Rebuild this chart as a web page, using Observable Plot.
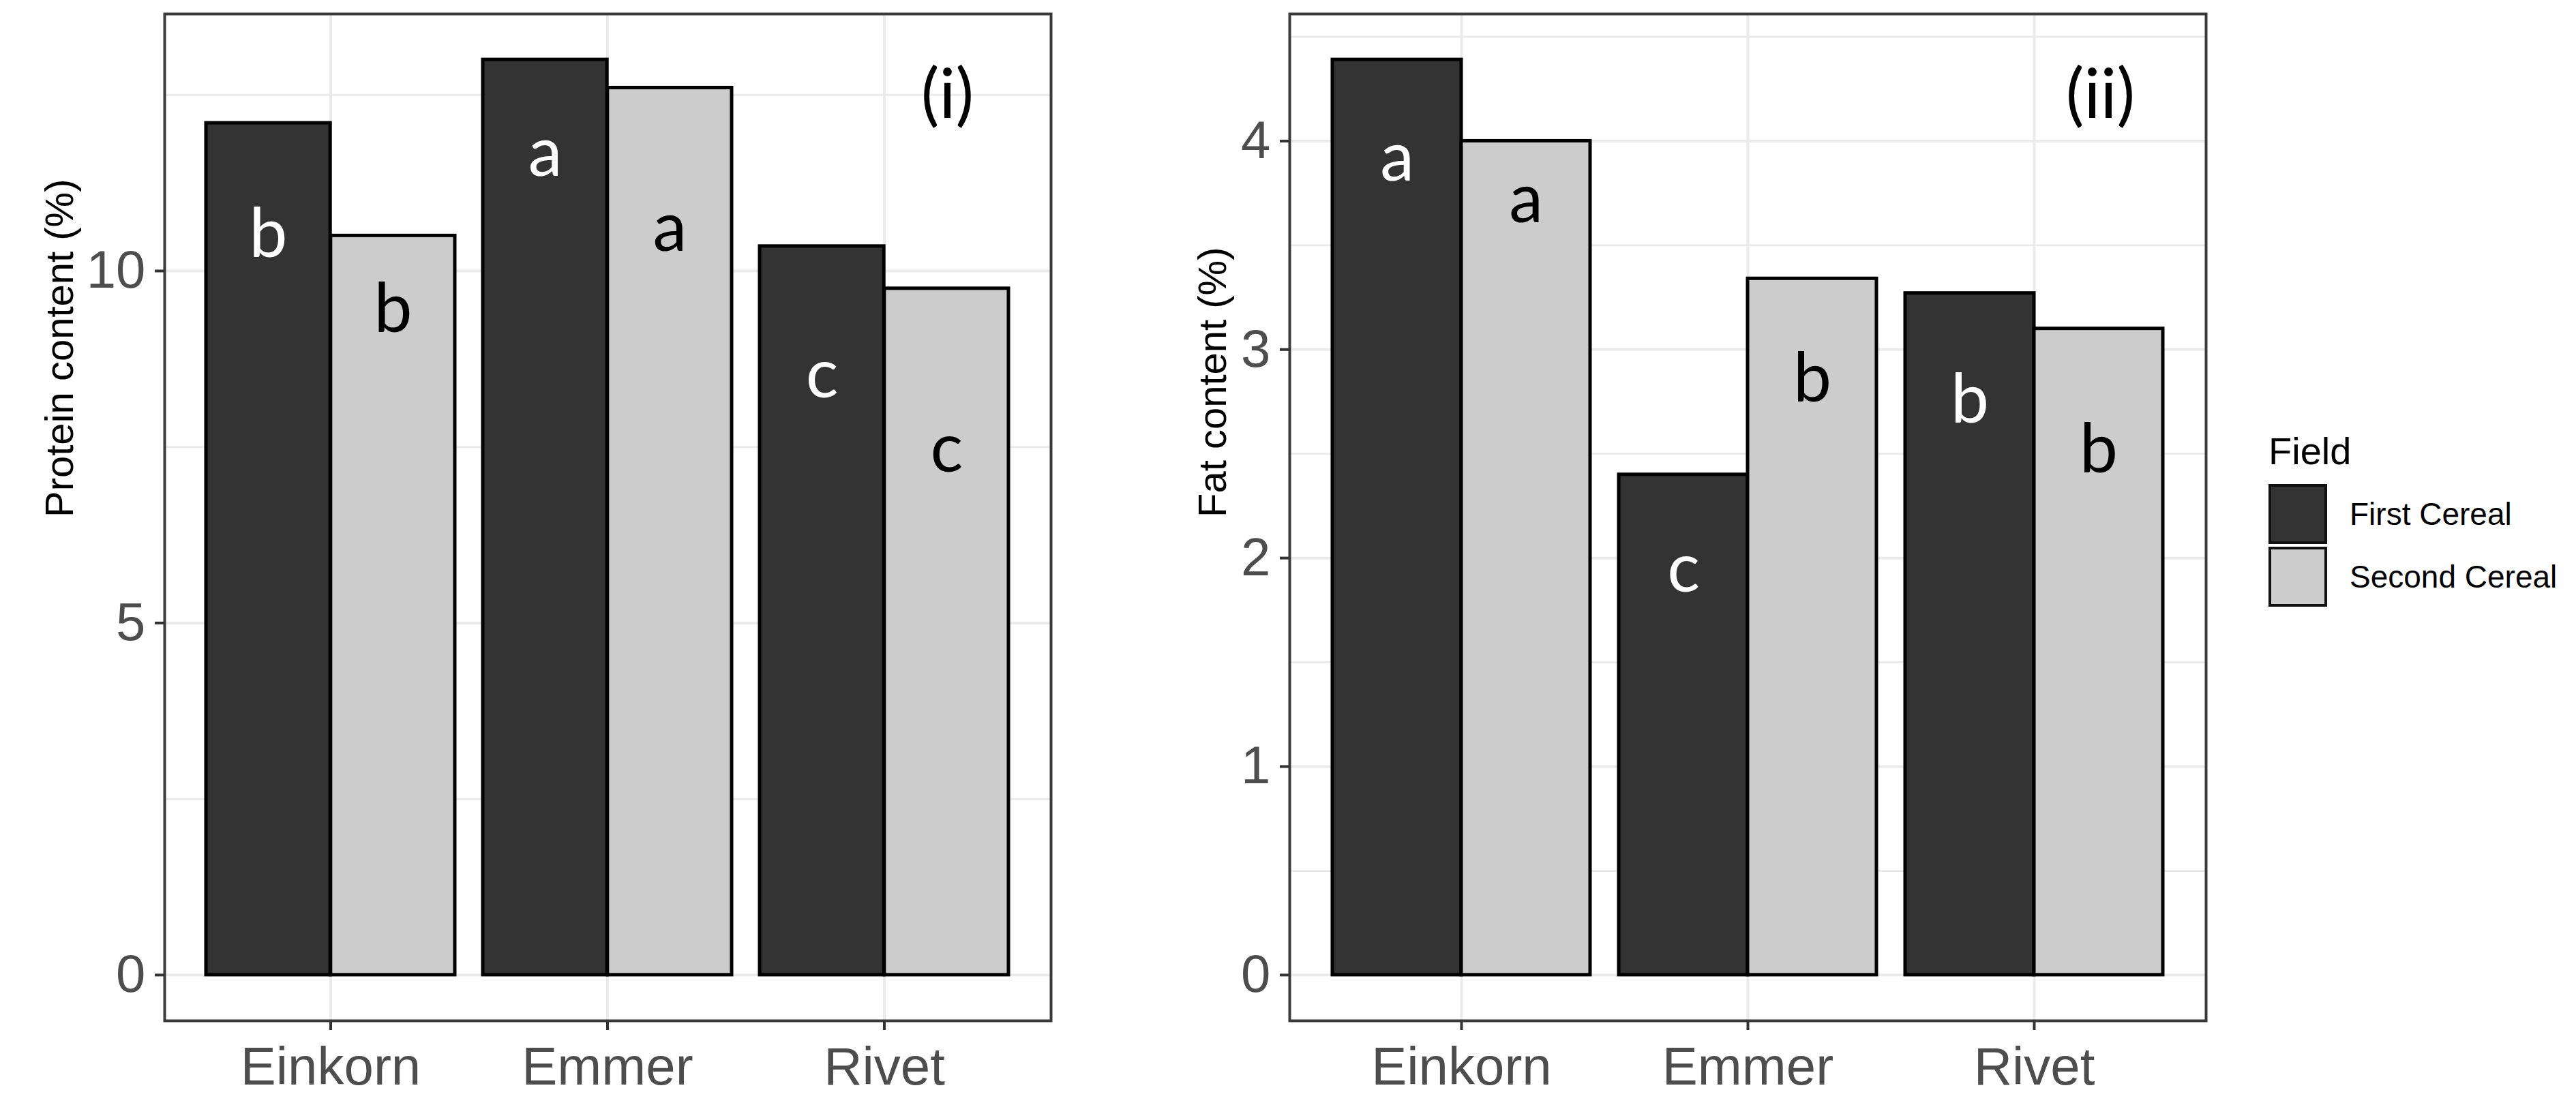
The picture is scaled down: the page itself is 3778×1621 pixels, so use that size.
<!DOCTYPE html>
<html>
<head>
<meta charset="utf-8">
<script src="https://cdn.jsdelivr.net/npm/d3@7"></script>
<script src="https://cdn.jsdelivr.net/npm/@observablehq/plot@0.6"></script>
<style>
  html, body { margin: 0; padding: 0; background: white; }
  #wrap { position: relative; width: 3778px; height: 1621px; overflow: hidden; background: white; }
  .panel { position: absolute; top: 0; }
  #legend { position: absolute; left: 3327px; top: 0; font-family: "Liberation Sans", Arial, sans-serif; }
</style>
</head>
<body>
<div id="wrap">
  <div id="p1" class="panel" style="left:0px"></div>
  <div id="p2" class="panel" style="left:1580px"></div>
  <div id="legend"></div>
</div>
<script>
// ---- data ----
const categories = ["Einkorn", "Emmer", "Rivet"];
const fields = ["First Cereal", "Second Cereal"];
const fieldColors = ["#333333", "#cccccc"];
const letterColors = ["white", "black"];

const proteinFirst = [12.1, 13.0, 10.35];
const proteinSecond = [10.5, 12.6, 9.75];
const proteinLettersFirst = ["b", "a", "c"];
const proteinLettersSecond = ["b", "a", "c"];
const proteinLetterYFirst = [10.2, 11.35, 8.2];
const proteinLetterYSecond = [9.13, 10.29, 7.15];
const proteinTicks = [0, 5, 10];
const proteinMinor = [2.5, 7.5, 12.5];

const fatFirst = [4.39, 2.40, 3.27];
const fatSecond = [4.00, 3.34, 3.10];
const fatLettersFirst = ["a", "c", "b"];
const fatLettersSecond = ["a", "b", "b"];
const fatLetterYFirst = [3.81, 1.84, 2.65];
const fatLetterYSecond = [3.61, 2.75, 2.41];
const fatTicks = [0, 1, 2, 3, 4];
const fatMinor = [0.5, 1.5, 2.5, 3.5, 4.5];

const sans = "'Liberation Sans', Arial, sans-serif";
const letterFont = "Lato, 'Open Sans', sans-serif";

function table(first, second, lFirst, lSecond, yFirst, ySecond) {
  const rows = [];
  categories.forEach((c, i) => {
    rows.push({category: c, field: fields[0], value: first[i], letter: lFirst[i], ly: yFirst[i]});
    rows.push({category: c, field: fields[1], value: second[i], letter: lSecond[i], ly: ySecond[i]});
  });
  return rows;
}

function panel({rows, ticks, minor, yLabel, tag, width, marginLeft, marginRight, titleDx, tagDx}) {
  const height = 1621, marginTop = 20, marginBottom = 124;
  const max = d3.max(rows, d => d.value);
  const panelW = width - marginLeft - marginRight;
  const bw = 0.9 * panelW / 3.2;
  const first = rows.filter(d => d.field === fields[0]);
  const second = rows.filter(d => d.field === fields[1]);
  return Plot.plot({
    width, height, marginLeft, marginRight, marginTop, marginBottom,
    style: {background: "white", fontFamily: sans, overflow: "visible"},
    x: {domain: categories, paddingInner: 0.1, paddingOuter: 0.15, axis: null},
    y: {domain: [-0.05 * max, 1.05 * max], axis: null},
    marks: [
      Plot.gridY({ticks: minor, stroke: "#ebebeb", strokeOpacity: 1, strokeWidth: 3}),
      Plot.gridY({ticks: ticks, stroke: "#ebebeb", strokeOpacity: 1, strokeWidth: 4}),
      Plot.gridX({stroke: "#ebebeb", strokeOpacity: 1, strokeWidth: 4}),
      Plot.barY(first, {x: "category", y: "value", fill: fieldColors[0], stroke: "black", strokeWidth: 5, insetRight: bw / 2}),
      Plot.barY(second, {x: "category", y: "value", fill: fieldColors[1], stroke: "black", strokeWidth: 5, insetLeft: bw / 2}),
      Plot.text(first, {x: "category", y: "ly", text: "letter", dx: -bw / 4, fill: letterColors[0], fontSize: 100, fontFamily: letterFont, lineAnchor: "bottom"}),
      Plot.text(second, {x: "category", y: "ly", text: "letter", dx: bw / 4, fill: letterColors[1], fontSize: 100, fontFamily: letterFont, lineAnchor: "bottom"}),
      Plot.text([tag], {frameAnchor: "top-right", text: d => d, dx: tagDx, dy: 152, fill: "black", fontSize: 100, fontFamily: letterFont, lineAnchor: "bottom", textAnchor: "middle"}),
      Plot.frame({stroke: "#3a3a3a", strokeWidth: 4}),
      Plot.axisY({ticks: ticks, tickFormat: d3.format("d"), tickSize: 14, tickPadding: 14, stroke: "#333333", strokeWidth: 4, fill: "#4d4d4d", fontSize: 78, fontFamily: sans, label: null}),
      Plot.axisX({tickSize: 14, tickPadding: 24, stroke: "#333333", strokeWidth: 4, fill: "#4d4d4d", fontSize: 78, fontFamily: sans, label: null}),
      Plot.text([yLabel], {frameAnchor: "left", text: d => d, rotate: -90, dx: titleDx, fill: "black", fontSize: 58, fontFamily: sans})
    ]
  });
}

document.getElementById("p1").appendChild(panel({
  rows: table(proteinFirst, proteinSecond, proteinLettersFirst, proteinLettersSecond, proteinLetterYFirst, proteinLetterYSecond),
  ticks: proteinTicks, minor: proteinMinor, yLabel: "Protein content (%)", tag: "(i)",
  width: 1580, marginLeft: 241, marginRight: 39, titleDx: -153, tagDx: -152
}));

document.getElementById("p2").appendChild(panel({
  rows: table(fatFirst, fatSecond, fatLettersFirst, fatLettersSecond, fatLetterYFirst, fatLetterYSecond),
  ticks: fatTicks, minor: fatMinor, yLabel: "Fat content (%)", tag: "(ii)",
  width: 1700, marginLeft: 311, marginRight: 45, titleDx: -112, tagDx: -155
}));

// ---- legend ----
const legend = document.getElementById("legend");
const title = document.createElement("div");
title.textContent = "Field";
Object.assign(title.style, {position: "absolute", left: "0px", top: "630px", fontSize: "56px", color: "black", whiteSpace: "nowrap", lineHeight: "64px"});
legend.appendChild(title);
fields.forEach((f, i) => {
  const top = 710 + i * 92;
  const key = document.createElement("div");
  Object.assign(key.style, {position: "absolute", left: "0px", top: top + "px", width: "78px", height: "80px", background: fieldColors[i], border: "4px solid #111", boxSizing: "content-box"});
  legend.appendChild(key);
  const lab = document.createElement("div");
  lab.textContent = f;
  Object.assign(lab.style, {position: "absolute", left: "119px", top: (top + 44 - 28) + "px", fontSize: "46px", lineHeight: "56px", color: "black", whiteSpace: "nowrap"});
  legend.appendChild(lab);
});
</script>
</body>
</html>
